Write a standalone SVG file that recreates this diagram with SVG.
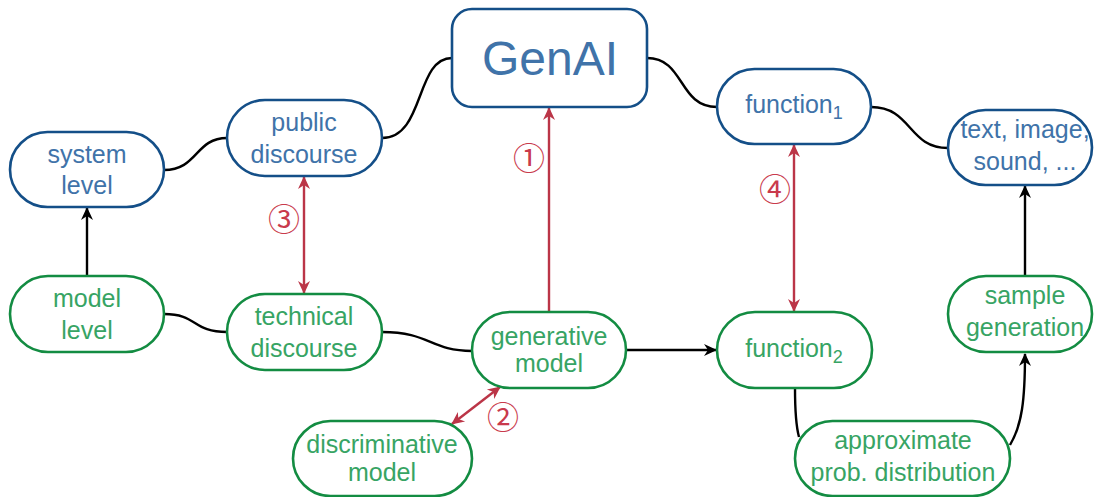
<svg xmlns="http://www.w3.org/2000/svg" width="1094" height="497" viewBox="0 0 1094 497">
<style>
.b{fill:#fff;stroke:#144f88;stroke-width:2.6}
.g{fill:#fff;stroke:#138c42;stroke-width:2.6}
.tb{fill:#4073a9;font-family:"Liberation Sans",Arial,sans-serif;font-size:25px;text-anchor:middle}
.tg{fill:#37a464;font-family:"Liberation Sans",Arial,sans-serif;font-size:25px;text-anchor:middle}
.k{fill:none;stroke:#000;stroke-width:2.4}
.r{fill:none;stroke:#bb3547;stroke-width:2.4}
.n{fill:#c93a4c;font-family:"Noto Sans CJK JP","DejaVu Sans",sans-serif;font-size:32px;text-anchor:middle;dominant-baseline:central}
</style>
<defs>
<marker id="ak" viewBox="-13 -7 15 14" refX="0" refY="0" markerWidth="15" markerHeight="14" markerUnits="userSpaceOnUse" orient="auto-start-reverse">
<path d="M1,0 L-12,-6 L-8,0 L-12,6 Z" fill="#000"/>
</marker>
<marker id="ar" viewBox="-13 -7 15 14" refX="0" refY="0" markerWidth="15" markerHeight="14" markerUnits="userSpaceOnUse" orient="auto-start-reverse">
<path d="M1,0 L-12,-6 L-8,0 L-12,6 Z" fill="#bb3547"/>
</marker>
</defs>
<g id="connectors">
<path class="k" d="M164,170 C198,170 195,138 227,138"/>
<path class="k" d="M382,138 C425,138 415,58 452,58"/>
<path class="k" d="M647,58 C685,58 678,107 717,107"/>
<path class="k" d="M871,107 C912,107 908,148 948,148"/>
<path class="k" d="M164,314 C198,314 192,332 227,332"/>
<path class="k" d="M382,332 C430,332 430,351 472,351"/>
<path class="k" d="M626,350 L716,350" marker-end="url(#ak)"/>
<path class="k" d="M795,388 C795,415 796,426 799,437"/>
<path class="k" d="M1010,445 C1022,425 1025,400 1025,354" marker-end="url(#ak)"/>
<path class="k" d="M1025,276 L1025,186" marker-end="url(#ak)"/>
<path class="k" d="M87,276 L87,208" marker-end="url(#ak)"/>
<path class="r" d="M549,312 L549,108" marker-end="url(#ar)"/>
<path class="r" d="M304,177 L304,293" marker-start="url(#ar)" marker-end="url(#ar)"/>
<path class="r" d="M794,145 L794,311" marker-start="url(#ar)" marker-end="url(#ar)"/>
<path class="r" d="M500,387 L452,424" marker-start="url(#ar)" marker-end="url(#ar)"/>
<text class="n" x="529" y="156">①</text>
<text class="n" x="284" y="217">③</text>
<text class="n" x="775" y="187">④</text>
<text class="n" x="503" y="415">②</text>
</g>
<g id="system-level"><rect class="b" x="10" y="132" width="154" height="75" rx="37.5"/><text class="tb" x="87" y="163">system</text><text class="tb" x="87" y="194">level</text></g>
<g id="public-discourse"><rect class="b" x="227" y="100" width="155" height="76" rx="38"/><text class="tb" x="304" y="131">public</text><text class="tb" x="304" y="163">discourse</text></g>
<g id="genai"><rect class="b" x="452" y="9" width="195" height="98" rx="20"/><text class="tb" x="550" y="75" style="font-size:48px">GenAI</text></g>
<g id="function1"><rect class="b" x="717" y="69" width="154" height="75" rx="37.5"/><text class="tb" x="794" y="113">function<tspan dy="6" style="font-size:18px">1</tspan></text></g>
<g id="text-image-sound"><rect class="b" x="948" y="110" width="144" height="75" rx="37.5"/><text class="tb" x="1025" y="138">text, image,</text><text class="tb" x="1025" y="170">sound, ...</text></g>
<g id="model-level"><rect class="g" x="10" y="276" width="154" height="76" rx="38"/><text class="tg" x="87" y="307">model</text><text class="tg" x="87" y="339">level</text></g>
<g id="technical-discourse"><rect class="g" x="227" y="294" width="155" height="76" rx="38"/><text class="tg" x="304" y="325">technical</text><text class="tg" x="304" y="357">discourse</text></g>
<g id="generative-model"><rect class="g" x="472" y="312" width="154" height="76" rx="38"/><text class="tg" x="549" y="345">generative</text><text class="tg" x="549" y="372">model</text></g>
<g id="function2"><rect class="g" x="717" y="312" width="155" height="76" rx="38"/><text class="tg" x="794" y="357">function<tspan dy="6" style="font-size:18px">2</tspan></text></g>
<g id="discriminative-model"><rect class="g" x="293" y="421" width="179" height="75" rx="37.5"/><text class="tg" x="382" y="453">discriminative</text><text class="tg" x="382" y="481">model</text></g>
<g id="approx-prob-distribution"><rect class="g" x="795" y="421" width="215" height="75" rx="37.5"/><text class="tg" x="903" y="449">approximate</text><text class="tg" x="903" y="481">prob. distribution</text></g>
<g id="sample-generation"><rect class="g" x="948" y="276" width="144" height="76" rx="38"/><text class="tg" x="1025" y="304">sample</text><text class="tg" x="1025" y="336">generation</text></g>
</svg>
